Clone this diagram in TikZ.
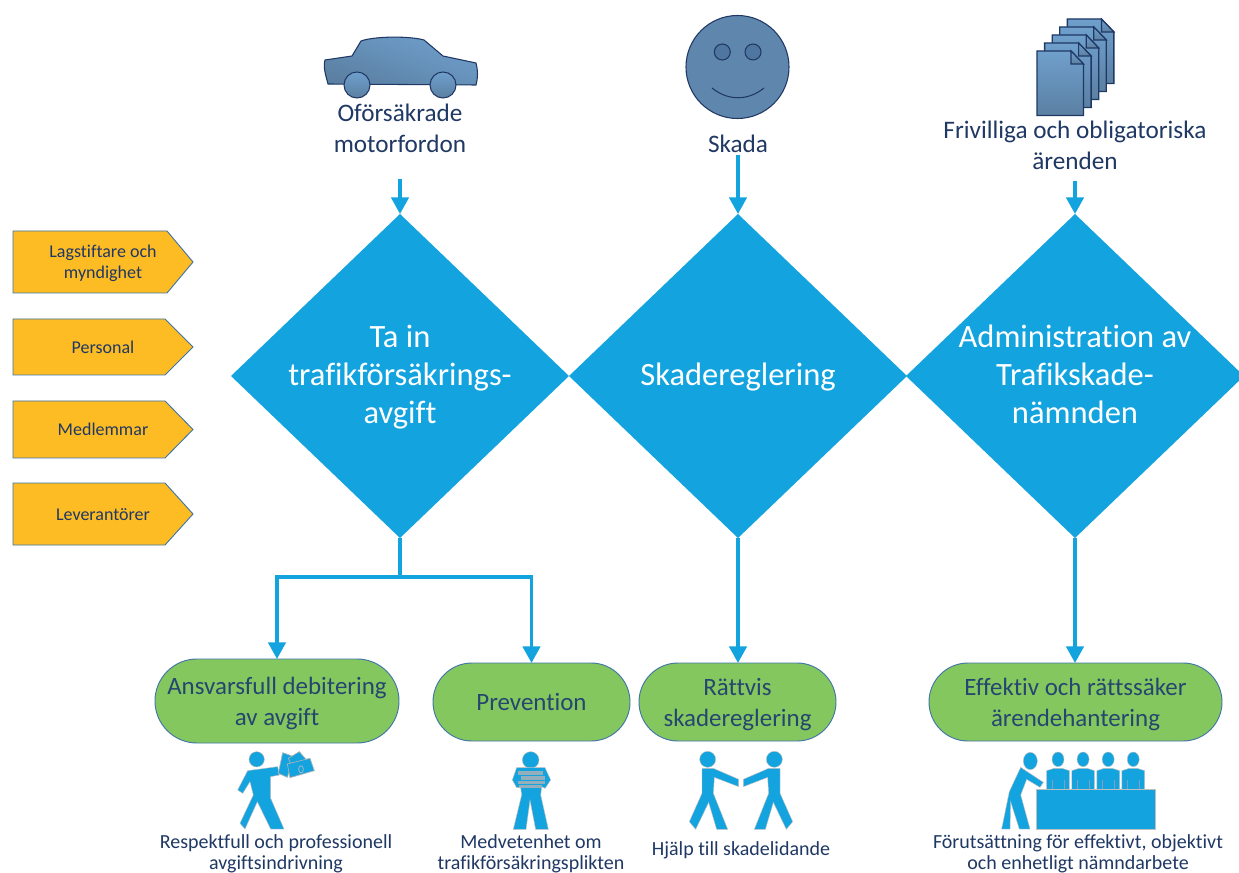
\documentclass[tikz,border=0pt]{standalone}
\usepackage{fontspec}
\setmainfont[Ligatures=NoCommon]{Carlito}
\usetikzlibrary{shapes.geometric,shapes.misc,arrows.meta,calc}
\definecolor{pblue}{HTML}{13A3DF}
\definecolor{navy}{HTML}{1F3864}
\definecolor{pillink}{HTML}{24466F}
\definecolor{pgreen}{HTML}{85C75F}
\definecolor{porange}{HTML}{FDBC24}
\definecolor{edgeblue}{HTML}{3F76A6}
\definecolor{gtop}{HTML}{6F9FCC}
\definecolor{gbot}{HTML}{5B80A2}
\definecolor{face}{HTML}{5F87AE}
\definecolor{eye}{HTML}{4E76A0}
\newcommand{\sline}[1]{\strut #1}
\tikzset{
  px/.style={x=.75pt,y=-.75pt},
  bigdiamond/.style={diamond,fill=pblue,draw=none,inner sep=0pt,outer sep=0pt,minimum width=253.5pt,minimum height=243pt},
  dilabel/.style={text=white,align=center,inner sep=0pt,yshift=-1.5pt,font=\fontsize{24.4}{28.5}\selectfont},
  flow/.style={draw=pblue,line width=2.7pt},
  flowarrow/.style={flow,-{Triangle[width=13pt,length=12.5pt]}},
  pill/.style={rounded rectangle,fill=pgreen,draw=edgeblue,line width=.7pt,inner sep=0pt,outer sep=0pt},
  pilllabel/.style={text=pillink,align=center,inner sep=0pt,yshift=-1.9pt,font=\fontsize{18.7}{23}\selectfont},
  toplabel/.style={text=navy,align=center,inner sep=0pt,yshift=-1.5pt,font=\fontsize{18.9}{23}\selectfont},
  botlabel/.style={text=navy,align=center,inner sep=0pt,yshift=-1.9pt,font=\fontsize{15}{16}\selectfont},
  tag/.style={fill=porange,draw=edgeblue,line width=.7pt},
  taglabel/.style={text=navy,align=center,inner sep=0pt,yshift=-1.2pt,font=\fontsize{13.5}{15.8}\selectfont},
  grad/.style={draw=navy,line width=.8pt,top color=gtop,bottom color=gbot},
  icon/.style={fill=pblue,draw=black!25,line width=.3pt},
  book/.style={fill=black!30,fill opacity=.8,draw=none},
}
\begin{document}
\begin{tikzpicture}[px]
\useasboundingbox (0,0) rectangle (1239,873);
\clip (0,0) rectangle (1239,873);
\fill[white] (0,0) rectangle (1239,873);

% tags
\draw[tag] (13,231) -- (167,231) -- (193,262) -- (167,293) -- (13,293) -- cycle;
\draw[tag] (13,319) -- (165,319) -- (193,347) -- (165,375) -- (13,375) -- cycle;
\draw[tag] (13,401) -- (165,401) -- (193,429.5) -- (165,458) -- (13,458) -- cycle;
\draw[tag] (13,483) -- (165,483) -- (193,514) -- (165,545) -- (13,545) -- cycle;
\node[taglabel] (t1) at (103,262.5) {\sline{Lagstiftare och}\\\sline{myndighet}};
\node[taglabel] (t2) at (103,347.5) {\sline{Personal}};
\node[taglabel] (t3) at (103,429.5) {\sline{Medlemmar}};
\node[taglabel] (t4) at (103,514.5) {\sline{Leverantörer}};

% diamonds
\node[bigdiamond] (d1) at (400,376) {};
\node[bigdiamond] (d2) at (738,376) {};
\node[bigdiamond] (d3) at (1075,376) {};
\node[dilabel] (d1t) at (d1.center) {\sline{Ta in}\\\sline{trafikförsäkrings-}\\\sline{avgift}};
\node[dilabel] (d2t) at (d2.center) {\sline{Skadereglering}};
\node[dilabel] (d3t) at (d3.center) {\sline{Administration av}\\\sline{Trafikskade-}\\\sline{nämnden}};

% top labels
\node[toplabel] (l1) at (400,129) {\sline{Oförsäkrade}\\\sline{motorfordon}};
\node[toplabel] (l2) at (738,144) {\sline{Skada}};
\node[toplabel] (l3) at (1075,146) {\sline{Frivilliga och obligatoriska}\\\sline{ärenden}};

% arrows in
\coordinate (a1) at (400,179);
\coordinate (a2) at (738,155);
\coordinate (a3) at (1075,181);
\draw[flowarrow] (a1) -- (d1.north);
\draw[flowarrow] (a2) -- (d2.north);
\draw[flowarrow] (a3) -- (d3.north);

% outcome pills
\node[pill,minimum width=183pt,minimum height=63pt] (g1) at (277,701) {};
\node[pill,minimum width=147.75pt,minimum height=58.5pt] (g2) at (531.5,702) {};
\node[pill,minimum width=147.75pt,minimum height=58.5pt] (g3) at (737.5,702) {};
\node[pill,minimum width=219.75pt,minimum height=58.5pt] (g4) at (1075.5,702) {};
\node[pilllabel] (g1t) at (g1.center) {\sline{Ansvarsfull debitering}\\\sline{av avgift}};
\node[pilllabel] (g2t) at (g2.center) {\sline{Prevention}};
\node[pilllabel] (g3t) at (g3.center) {\sline{Rättvis}\\\sline{skadereglering}};
\node[pilllabel] (g4t) at (g4.center) {\sline{Effektiv och rättssäker}\\\sline{ärendehantering}};

% arrows out
\coordinate (j1) at (400,577);
\draw[flow] (d1.south) -- (j1);
\draw[flowarrow] ($(j1)+(1.8,0)$) -| (g1.north);
\draw[flowarrow] ($(j1)-(1.8,0)$) -| (g2.north);
\draw[flowarrow] (d2.south) -- (d2.south |- g3.north);
\draw[flowarrow] (d3.south) -- (d3.south |- g4.north);

% bottom labels
\node[botlabel] (b1) at (276,852) {\sline{Respektfull och professionell}\\\sline{avgiftsindrivning}};
\node[botlabel] (b2) at (531,852) {\sline{Medvetenhet om}\\\sline{trafikförsäkringsplikten}};
\node[botlabel] (b3) at (741,849) {\sline{Hjälp till skadelidande}};
\node[botlabel] (b4) at (1078,852) {\sline{Förutsättning för effektivt, objektivt}\\\sline{och enhetligt nämndarbete}};

% car
\draw[grad,shading angle=-20]
  (325,60) -- (352,56) -- (361,41) .. controls (375,36) and (410,36) .. (424,40)
  -- (443,56) -- (476,63) .. controls (478,70) and (478,78) .. (476,85)
  -- (328,84) .. controls (326,76) and (323,68) .. (325,60) -- cycle;
\draw[grad] (357,85) circle[radius=13];
\draw[grad] (443,85) circle[radius=13];

% smiley
\draw[navy,line width=.8pt,fill=face] (737.5,67) circle[radius=51.5];
\draw[navy,line width=.8pt,fill=eye] (722.3,52) circle[radius=8];
\draw[navy,line width=.8pt,fill=eye] (753,52) circle[radius=8];
\draw[navy,line width=.8pt] (712,88) .. controls (728,101) and (748,101) .. (764,88);

% documents
\foreach \i in {4,3,2,1,0}{
  \begin{scope}[shift={({1037+7.6*\i},{51-8*\i})}]
    \draw[grad,line width=1pt] (0,0) -- (34,0) -- (46.5,13) -- (46.5,64.5) -- (0,64.5) -- cycle;
    \draw[grad,line width=.9pt] (34,0) -- (46.5,13) -- (34,13) -- cycle;
  \end{scope}
}

% person with money
\begin{scope}[shift={(200,740)},x=.25pt,y=-.25pt]
  \fill[icon] (170,58) circle[radius=23];
  \fill[icon] (143,92) -- (233,80) -- (238,105) -- (212,110) -- (212,175) -- (252,267) -- (212,267) -- (172,185) -- (135,267) -- (120,250) -- (160,165) -- (150,125) -- (128,160) -- (113,150) -- cycle;
  \draw[icon,draw=black!30,line width=.5pt] (248,38) -- (282,50) -- (262,112) -- (235,100) -- cycle;
  \draw[icon,draw=black!30,line width=.5pt] (265,55) -- (298,35) -- (320,60) -- (285,100) -- cycle;
  \draw[icon,draw=black!30,line width=.5pt] (262,72) -- (330,55) -- (343,92) -- (270,113) -- cycle;
  \draw[black!25,line width=.5pt] (303,88) ellipse[x radius=7,y radius=11];
\end{scope}

% person with books
\begin{scope}[shift={(490,745)},x=.25pt,y=-.25pt]
  \fill[icon] (122,45) circle[radius=25];
  \fill[icon] (80,68) -- (165,68) -- (182,105) -- (165,130) -- (155,125) -- (152,150) -- (175,253) -- (137,253) -- (120,165) -- (108,253) -- (70,253) -- (95,150) -- (92,128) -- (80,128) -- (67,105) -- cycle;
  \fill[book] (85,78) rectangle (160,90);
  \fill[book] (92,94) rectangle (165,105);
  \fill[book] (85,107) rectangle (165,117);
  \fill[book] (88,119) rectangle (155,129);
\end{scope}

% handshake
\begin{scope}[shift={(660,740)},x=.25pt,y=-.25pt]
  \fill[icon] (143,58) circle[radius=24];
  \fill[icon] (126,85) -- (160,85) -- (236,118) -- (236,140) -- (163,112) -- (160,160) -- (203,268) -- (170,268) -- (146,187) -- (107,268) -- (88,245) -- (126,160) -- cycle;
  \fill[icon] (343,58) circle[radius=24];
  \fill[icon] (360,85) -- (326,85) -- (250,118) -- (250,140) -- (323,112) -- (326,160) -- (283,268) -- (316,268) -- (340,187) -- (379,268) -- (398,245) -- (360,160) -- cycle;
\end{scope}

% board
\begin{scope}[shift={(980,740)},x=.25pt,y=-.25pt]
  \fill[icon] (151,63) ellipse[x radius=21,y radius=26];
  \fill[icon] (122,82) -- (190,127) -- (180,142) -- (140,118) -- (122,165) -- (150,267) -- (118,267) -- (92,185) -- (90,267) -- (65,267) -- (88,155) -- cycle;
  \foreach \dx in {0,76,152,228}{
    \fill[icon] ({234+\dx*.99},58) ellipse[x radius=18,y radius=22];
    \fill[icon] ({200+\dx*.99},92) -- ({222+\dx*.99},85) -- ({246+\dx*.99},85) -- ({268+\dx*.99},92) -- ({268+\dx*.99},150) -- ({200+\dx*.99},150) -- cycle;
    \draw[eye!70,line width=.5pt] ({217+\dx*.99},120) -- ({217+\dx*.99},150) ({252+\dx*.99},120) -- ({252+\dx*.99},150);
  }
  \fill[icon] (169,148) rectangle (526,268);
\end{scope}
\end{tikzpicture}
\end{document}
